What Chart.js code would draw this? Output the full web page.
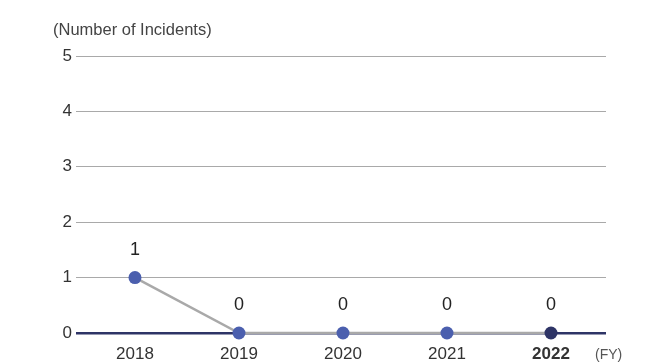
<!DOCTYPE html>
<html>
<head>
<meta charset="utf-8">
<script src="https://cdn.jsdelivr.net/npm/chart.js@4.4.0/dist/chart.umd.min.js"></script>
<style>
html,body{margin:0;padding:0;background:#fff;}
#wrap{width:653px;height:364px;position:relative;}
</style>
</head>
<body>
<div id="wrap"><canvas id="c" width="653" height="364"></canvas></div>
<script>
const years = ['2018', '2019', '2020', '2021', '2022'];
const incidents = [1, 0, 0, 0, 0];
const yTicks = [0, 1, 2, 3, 4, 5];
const yTitle = '(Number of Incidents)';
const xUnit = '(FY)';

const BLUE = '#4b5fae';
const NAVY = '#2e3466';
const GRAY = '#a9a9a9';
const FONT = '"Liberation Sans", Arial, Helvetica, sans-serif';

const points = years.map((y, i) => ({x: i, y: incidents[i]}));

const labelsPlugin = {
  id: 'extras',
  afterDatasetsDraw(chart) {
    const ctx = chart.ctx;
    const meta = chart.getDatasetMeta(0);
    ctx.save();
    ctx.fillStyle = '#222';
    ctx.textAlign = 'center';
    ctx.textBaseline = 'middle';
    meta.data.forEach((el, i) => {
      ctx.font = '18px ' + FONT;
      ctx.fillText(String(incidents[i]), el.x, el.y - 28);
    });
    ctx.font = '16.5px ' + FONT;
    ctx.fillStyle = '#444';
    ctx.textAlign = 'left';
    ctx.textBaseline = 'middle';
    ctx.fillText(yTitle, 53, 30);
    ctx.font = '14px ' + FONT;
    ctx.fillStyle = '#555';
    ctx.fillText(xUnit, 595, 355);
    ctx.restore();
  }
};

new Chart(document.getElementById('c'), {
  type: 'line',
  data: {
    datasets: [{
      data: points,
      borderColor: GRAY,
      borderWidth: 2.5,
      pointRadius: 6.5,
      pointHoverRadius: 6.5,
      pointBorderWidth: 0,
      pointBackgroundColor: incidents.map((v, i) => i === incidents.length - 1 ? NAVY : BLUE),
      tension: 0,
      clip: false
    }]
  },
  options: {
    responsive: false,
    animation: false,
    events: [],
    layout: {padding: {left: 0, right: 47, top: 56, bottom: 0}},
    plugins: {legend: {display: false}, tooltip: {enabled: false}},
    scales: {
      x: {
        type: 'linear',
        min: -0.567,
        max: 4.529,
        afterBuildTicks: (s) => { s.ticks = years.map((_, i) => ({value: i})); },
        afterFit: (s) => { s.height = 31; },
        grid: {display: false, drawTicks: false},
        border: {display: false},
        ticks: {
          padding: 11,
          autoSkip: false,
          maxRotation: 0,
          color: '#333',
          font: (c) => ({family: FONT, size: 17, weight: c.index === years.length - 1 ? 'bold' : 'normal'}),
          callback: (v) => years[v]
        }
      },
      y: {
        min: 0,
        max: 5,
        afterBuildTicks: (s) => { s.ticks = yTicks.map(v => ({value: v})); },
        afterFit: (s) => { s.width = 76; },
        grid: {
          drawTicks: false,
          color: (c) => c.tick && c.tick.value === 0 ? NAVY : GRAY,
          lineWidth: (c) => c.tick && c.tick.value === 0 ? 2.5 : 1
        },
        border: {display: false},
        ticks: {
          padding: 4,
          color: '#333',
          font: {family: FONT, size: 17},
          callback: (v) => String(v)
        }
      }
    }
  },
  plugins: [labelsPlugin]
});
</script>
</body>
</html>
